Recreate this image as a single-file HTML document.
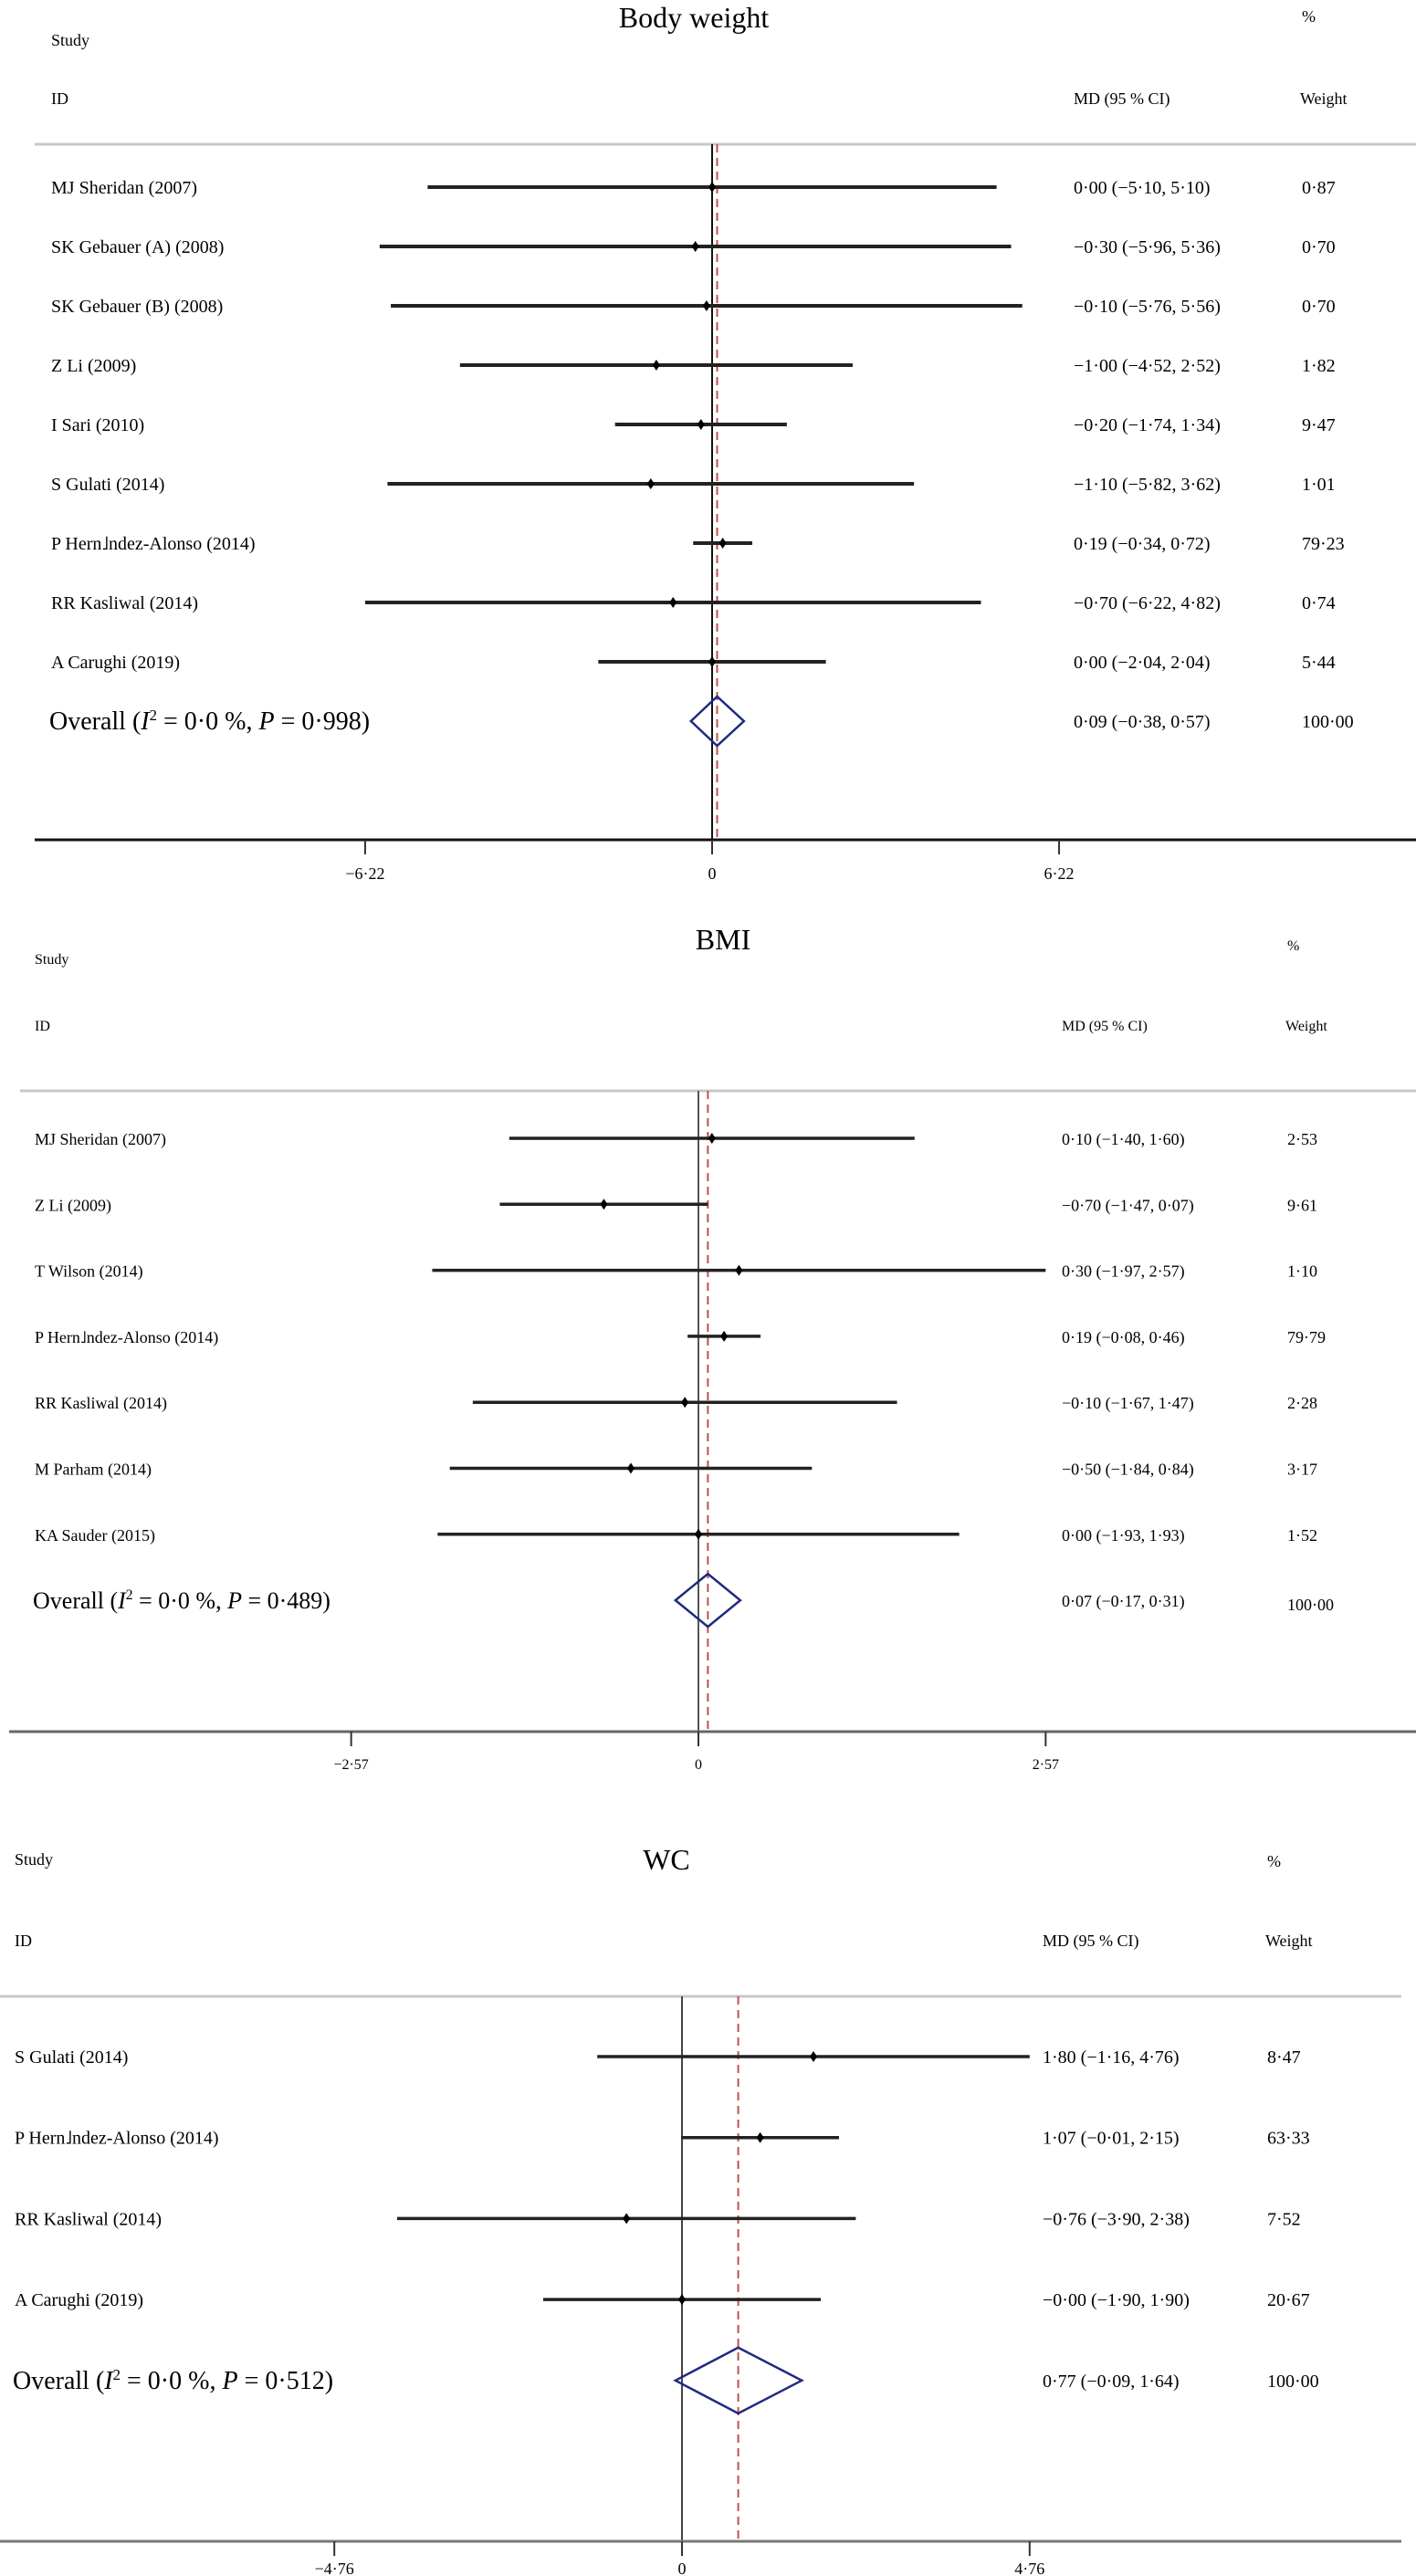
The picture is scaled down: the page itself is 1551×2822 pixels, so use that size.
<!DOCTYPE html>
<html><head><meta charset="utf-8">
<style>
html,body{margin:0;padding:0;background:#fff;}
svg{display:block;font-family:"Liberation Serif","DejaVu Serif",serif;}
</style></head>
<body>
<svg id="chart" width="1551" height="2822" viewBox="0 0 1551 2822" xmlns="http://www.w3.org/2000/svg"></svg>
<script>
// Panel 1: Body weight
const bwStudies = ["MJ Sheridan (2007)","SK Gebauer (A) (2008)","SK Gebauer (B) (2008)","Z Li (2009)","I Sari (2010)","S Gulati (2014)","P Hern\u2143ndez-Alonso (2014)","RR Kasliwal (2014)","A Caughi (2019)"];
bwStudies[6] = "P Hern\u02E9ndez-Alonso (2014)"; bwStudies[8] = "A Carughi (2019)";
const bwEst = [0.00,-0.30,-0.10,-1.00,-0.20,-1.10,0.19,-0.70,0.00];
const bwLo = [-5.10,-5.96,-5.76,-4.52,-1.74,-5.82,-0.34,-6.22,-2.04];
const bwHi = [5.10,5.36,5.56,2.52,1.34,3.62,0.72,4.82,2.04];
const bwWeight = [0.87,0.70,0.70,1.82,9.47,1.01,79.23,0.74,5.44];
const bwOverall = [0.09,-0.38,0.57];
const bwTicks = [-6.22,0,6.22];
const bwStats = ["0·998"];

// Panel 2: BMI
const bmiStudies = ["MJ Sheridan (2007)","Z Li (2009)","T Wilson (2014)","P Hern\u02E9ndez-Alonso (2014)","RR Kasliwal (2014)","M Parham (2014)","KA Sauder (2015)"];
const bmiEst = [0.10,-0.70,0.30,0.19,-0.10,-0.50,0.00];
const bmiLo = [-1.40,-1.47,-1.97,-0.08,-1.67,-1.84,-1.93];
const bmiHi = [1.60,0.07,2.57,0.46,1.47,0.84,1.93];
const bmiWeight = [2.53,9.61,1.10,79.79,2.28,3.17,1.52];
const bmiOverall = [0.07,-0.17,0.31];
const bmiTicks = [-2.57,0,2.57];
const bmiStats = ["0·489"];

// Panel 3: WC
const wcStudies = ["S Gulati (2014)","P Hern\u02E9ndez-Alonso (2014)","RR Kasliwal (2014)","A Carughi (2019)"];
const wcEst = [1.80,1.07,-0.76,-0.00];
const wcLo = [-1.16,-0.01,-3.90,-1.90];
const wcHi = [4.76,2.15,2.38,1.90];
const wcWeight = [8.47,63.33,7.52,20.67];
const wcOverall = [0.77,-0.09,1.64];
const wcTicks = [-4.76,0,4.76];
const wcStats = ["0·512"];

const NS="http://www.w3.org/2000/svg";
const svg=document.getElementById('chart');
function mk(tag,attrs,parent){const e=document.createElementNS(NS,tag);for(const k in attrs)e.setAttribute(k,attrs[k]);(parent||svg).appendChild(e);return e;}
function fmt(v){const neg=v<0||Object.is(v,-0);return (neg?"\u2212":"")+Math.abs(v).toFixed(2).replace('.','\u00B7');}

function panel(cfg){
  const g=mk('g',{});
  
  
  const x=v=>cfg.x0+v*cfg.pxPer;
  const fs=cfg.fs;
  let t;
  t=mk('text',{x:cfg.titleX,y:cfg.titleY,'font-size':cfg.titleFs,'text-anchor':'middle'},g);t.textContent=cfg.title;
  
  t=mk('text',{x:cfg.labX,y:cfg.studyY,'font-size':fs-2},g);t.textContent='Study';
  
  t=mk('text',{x:cfg.wX,y:cfg.pctY,'font-size':fs-2},g);t.textContent='%';
  
  t=mk('text',{x:cfg.labX,y:cfg.idY,'font-size':fs-2},g);t.textContent='ID';
  
  t=mk('text',{x:cfg.mdX,y:cfg.idY,'font-size':fs-2},g);t.textContent='MD (95 % CI)';
  
  t=mk('text',{x:cfg.wX-2,y:cfg.idY,'font-size':fs-2},g);t.textContent='Weight';
  
  // header rule
  let l=mk('line',{x1:cfg.ruleX1,x2:cfg.ruleX2,y1:cfg.ruleY,y2:cfg.ruleY,stroke:'#c8c8c8','stroke-width':3},g);
  
  // zero line
  l=mk('line',{x1:x(0),x2:x(0),y1:cfg.ruleY,y2:cfg.axisY,stroke:cfg.zeroColor,'stroke-width':2},g);
  
  // overall dashed
  l=mk('line',{x1:x(cfg.overall[0]),x2:x(cfg.overall[0]),y1:cfg.ruleY,y2:cfg.axisY,stroke:'#c0504d','stroke-width':2,'stroke-dasharray':'9,6'},g);
  
  // rows
  cfg.studies.forEach((s,i)=>{
    const y=cfg.row0+i*cfg.rowStep;
    const r=mk('g',{},g);
    
    let tt=mk('text',{x:cfg.labX,y:y+7,'font-size':fs},r);tt.textContent=s;
    
    const ci=mk('line',{x1:x(cfg.lo[i]),x2:x(cfg.hi[i]),y1:y,y2:y,stroke:'#222','stroke-width':cfg.lw},r);
    
    const cx=x(cfg.est[i]);
    const pt=mk('polygon',{points:`${cx-4},${y} ${cx},${y-6} ${cx+4},${y} ${cx},${y+6}`,fill:'#000'},r);
    
    tt=mk('text',{x:cfg.mdX,y:y+7,'font-size':fs},r);tt.textContent=`${fmt(cfg.est[i])} (${fmt(cfg.lo[i])}, ${fmt(cfg.hi[i])})`;
    
    tt=mk('text',{x:cfg.wX,y:y+7,'font-size':fs},r);tt.textContent=cfg.weight[i].toFixed(2).replace('.','\u00B7');
    
  });
  // overall
  const oy=cfg.row0+cfg.studies.length*cfg.rowStep;
  t=mk('text',{x:cfg.labX-2,y:oy+9,'font-size':cfg.ovFs},g);
  t.innerHTML=`Overall (<tspan font-style="italic">I</tspan><tspan dy="-10" font-size="${cfg.ovFs*0.6}">2</tspan><tspan dy="10"> = 0·0 %, </tspan><tspan font-style="italic">P</tspan> = ${cfg.stats[0]})`;
  
  const d=mk('polygon',{points:`${x(cfg.overall[1])},${oy} ${x(cfg.overall[0])},${oy-cfg.dh} ${x(cfg.overall[2])},${oy} ${x(cfg.overall[0])},${oy+cfg.dh}`,fill:'none',stroke:'#1f2a80','stroke-width':2.5},g);
  
  t=mk('text',{x:cfg.mdX,y:oy+7,'font-size':fs},g);t.textContent=`${fmt(cfg.overall[0])} (${fmt(cfg.overall[1])}, ${fmt(cfg.overall[2])})`;
  
  t=mk('text',{x:cfg.wX,y:oy+7+cfg.ovWdy,'font-size':fs},g);t.textContent='100·00';
  
  // axis
  l=mk('line',{x1:cfg.axX1,x2:cfg.axX2,y1:cfg.axisY,y2:cfg.axisY,stroke:cfg.axColor,'stroke-width':3},g);
  
  cfg.ticks.forEach(v=>{
    const tk=mk('line',{x1:x(v),x2:x(v),y1:cfg.axisY,y2:cfg.axisY+16,stroke:'#333','stroke-width':2},g);
    
    const tl=mk('text',{x:x(v),y:cfg.tickLabY,'font-size':fs-2,'text-anchor':'middle'},g);
    tl.textContent=v===0?'0':fmt(v);
    
  });
}

panel({id:'body-weight',title:'Body weight',titleX:760,titleY:30,titleFs:32,studyY:50,pctY:24,idY:114,
  labX:56,mdX:1176,wX:1426,ruleY:158,ruleX1:38,ruleX2:1551,x0:780,pxPer:61.1,row0:205,rowStep:65,
  fs:20,ovFs:28,lw:4,dh:27,axisY:920,axX1:38,axX2:1551,tickLabY:963,zeroColor:'#111',axColor:'#111',ovWdy:0,
  studies:bwStudies,est:bwEst,lo:bwLo,hi:bwHi,weight:bwWeight,overall:bwOverall,ticks:bwTicks,stats:bwStats});
panel({id:'bmi',title:'BMI',titleX:792,titleY:1040,titleFs:32,studyY:1056,pctY:1041,idY:1129,
  labX:38,mdX:1163,wX:1410,ruleY:1195,ruleX1:22,ruleX2:1551,x0:765,pxPer:148,row0:1247,rowStep:72.3,
  fs:18,ovFs:26,lw:3.5,dh:29,axisY:1897,axX1:10,axX2:1551,tickLabY:1938,zeroColor:'#555',axColor:'#666',ovWdy:4,
  studies:bmiStudies,est:bmiEst,lo:bmiLo,hi:bmiHi,weight:bmiWeight,overall:bmiOverall,ticks:bmiTicks,stats:bmiStats});
panel({id:'wc',title:'WC',titleX:730,titleY:2048,titleFs:32,studyY:2043,pctY:2045,idY:2132,
  labX:16,mdX:1142,wX:1388,ruleY:2187,ruleX1:0,ruleX2:1535,x0:747,pxPer:80,row0:2253,rowStep:88.7,
  fs:20,ovFs:28,lw:3.5,dh:36,axisY:2784,axX1:0,axX2:1535,tickLabY:2820,zeroColor:'#444',axColor:'#777',ovWdy:0,
  studies:wcStudies,est:wcEst,lo:wcLo,hi:wcHi,weight:wcWeight,overall:wcOverall,ticks:wcTicks,stats:wcStats});
</script>
</body></html>
